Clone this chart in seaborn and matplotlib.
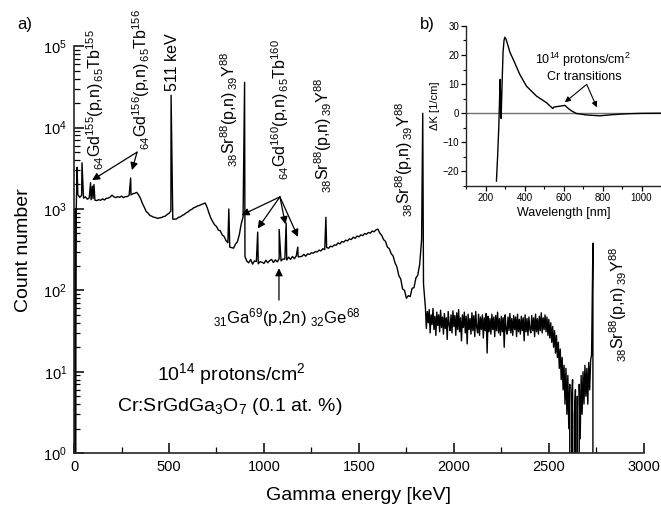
import numpy as np
import pandas as pd
import matplotlib
matplotlib.use("Agg")
import matplotlib.pyplot as plt
from matplotlib.ticker import MultipleLocator, LogLocator, NullFormatter
import seaborn as sns

# ---------------- gamma spectrum ----------------
# continuum below the 1836 keV line, one value every 10 keV starting at 20 keV
continuum_start, continuum_step = 20, 10
continuum_counts = [
    1500, 1390, 1470, 1360, 1410, 1320, 1370, 1300, 1340, 1280,   # 20-110
    1270, 1300, 1280, 1330, 1290, 1350, 1360, 1400, 1480, 1410,   # 120-210
    1380, 1420, 1390, 1440, 1380, 1420, 1420, 1470, 1490, 1540,   # 220-310
    1560, 1600, 1490, 1350, 1170, 1050, 930, 890, 830, 815,       # 320-410
    790, 785, 765, 780, 785, 805, 815, 855, 885, 945,             # 420-510
    750, 750, 755, 790, 800, 835, 855, 895, 920, 965,             # 520-610
    990, 1035, 1055, 1090, 1105, 1135, 1155, 1185, 1060, 900,     # 620-710
    775, 700, 640, 610, 550, 540, 480, 460, 410, 385,             # 720-810
    340, 335, 330, 370, 395, 480, 650, 800, 260, 228,             # 820-910
    218, 240, 210, 230, 226, 212, 225, 222, 214, 234,             # 920-1010
    218, 232, 240, 220, 237, 224, 245, 230, 243, 242,             # 1020-1110
    236, 256, 240, 261, 245, 265, 258, 260, 262, 277,             # 1120-1210
    263, 281, 276, 290, 286, 300, 296, 312, 305, 325,             # 1220-1310
    317, 337, 329, 349, 343, 362, 358, 383, 372, 398,             # 1320-1410
    392, 414, 406, 430, 421, 450, 436, 465, 455, 481,             # 1420-1510
    470, 500, 490, 515, 505, 536, 525, 555, 565, 505,             # 1520-1610
    475, 420, 400, 340, 325, 282, 265, 218, 195, 152,             # 1620-1710
    138, 104, 100, 80, 86, 84, 106, 108, 142, 154,                # 1720-1810
    210, 420, 120,                                                # 1820-1840
]

# noisy part above the 1836 keV line, one value every 5 keV starting at 1850 keV
tail_start, tail_step = 1850, 5
tail_counts = [
    62, 34, 55, 40, 58, 30, 50, 38, 60, 33,    # 1850-1895
    48, 28, 54, 37, 50, 31, 57, 35, 47, 29,    # 1900-1945
    52, 34, 46, 25, 55, 38, 32, 50, 30, 56,    # 1950-1995
    36, 49, 28, 53, 33, 58, 31, 46, 24, 50,    # 2000-2045
    35, 54, 30, 48, 22, 51, 33, 45, 29, 53,    # 2050-2095
    32, 49, 27, 55, 35, 30, 51, 28, 47, 33,    # 2100-2145
    50, 26, 46, 32, 52, 17, 48, 31, 45, 29,    # 2150-2195
    51, 33, 47, 27, 49, 32, 54, 30, 45, 28,    # 2200-2245
    48, 31, 46, 20, 50, 33, 29, 47, 32, 52,    # 2250-2295
    30, 45, 28, 49, 33, 47, 27, 51, 31, 44,    # 2300-2345
    29, 48, 32, 46, 24, 50, 31, 45, 28, 47,    # 2350-2395
    33, 30, 49, 32, 46, 27, 51, 31, 45, 29,    # 2400-2445
    48, 32, 53, 30, 46, 33, 50, 31, 47, 28,    # 2450-2495
    44, 26, 40, 23, 36, 20, 32, 17, 28, 15,    # 2500-2545
    23, 11, 19, 8, 15, 6, 12, 4, 11, 3,        # 2550-2595
    9, 2, 7, 0, 5, 8, 0, 3, 6, 0,              # 2600-2645
    5, 0, 7, 1.5, 9, 3, 10, 4, 12, 5,          # 2650-2695
    11, 4, 13, 6, 14, 16,                      # 2700-2725
]

# threshold region at the low end and the end of the recorded range
edge_energy = [0, 5, 8, 12, 2737]
edge_counts = [0, 1000, 1, 1100, 0]

# full-energy peaks
peak_energy = [16, 42, 87, 97, 105, 298, 511, 815, 898, 967, 1080, 1117,
               1178, 1326, 1836, 2732]
peak_counts = [3250, 3700, 2100, 1900, 2000, 2400, 25000, 1000, 36000, 520,
               560, 670, 340, 790, 15000, 380]

# ---------------- absorption difference (inset) ----------------
wavelength_nm = [256, 262, 268, 275, 278, 280, 285, 290, 295, 299, 305, 312,
                 325, 350, 376, 410, 461, 513, 545, 550, 560, 580, 600, 607,
                 625, 641, 666, 717, 786, 853, 922, 1000, 1100]
delta_k = [-23.4, -15.0, -5.0, 11.6, 3.0, -1.8, 10.0, 21.0, 25.0, 26.1, 25.5,
           24.0, 21.0, 17.3, 13.3, 9.3, 5.9, 3.6, 1.6, 2.1, 2.2, 2.4, 2.6,
           2.7, 1.6, 0.8, -0.1, -0.6, -0.9, -0.5, -0.2, -0.05, 0.0]

# ---------------- assemble tables ----------------
spectrum = pd.concat([
    pd.DataFrame({"energy": continuum_start + continuum_step * np.arange(len(continuum_counts)),
                  "counts": continuum_counts}),
    pd.DataFrame({"energy": tail_start + tail_step * np.arange(len(tail_counts)),
                  "counts": tail_counts}),
    pd.DataFrame({"energy": edge_energy, "counts": edge_counts}),
    pd.DataFrame({"energy": peak_energy, "counts": peak_counts}),
], ignore_index=True).astype(float)

absorption = pd.DataFrame({"wavelength": wavelength_nm, "dk": delta_k})

# ---------------- style ----------------
sns.set_theme(style="ticks")
plt.rcParams["font.family"] = ["Liberation Sans", "DejaVu Sans"]
plt.rcParams["mathtext.fontset"] = "custom"
plt.rcParams["mathtext.rm"] = "Liberation Sans"
plt.rcParams["mathtext.it"] = "Liberation Sans:italic"
plt.rcParams["mathtext.bf"] = "Liberation Sans:bold"
plt.rcParams["mathtext.sf"] = "Liberation Sans"
plt.rcParams["axes.linewidth"] = 1.2
plt.rcParams["text.color"] = "black"
plt.rcParams["axes.labelcolor"] = "black"
plt.rcParams["xtick.color"] = "black"
plt.rcParams["ytick.color"] = "black"

fig = plt.figure(figsize=(6.61, 5.08), dpi=100)
ax = fig.add_axes([0.112, 0.108, 0.862, 0.801])

sns.lineplot(data=spectrum, x="energy", y="counts", estimator=None, sort=True,
             color="black", linewidth=1.0, ax=ax)
ax.set_yscale("log")
ax.set_xlim(0, 3000)
ax.set_ylim(1, 1e5)
ax.xaxis.set_major_locator(MultipleLocator(500))
ax.xaxis.set_minor_locator(MultipleLocator(250))
ax.yaxis.set_major_locator(LogLocator(base=10))
ax.yaxis.set_minor_locator(LogLocator(base=10, subs=np.arange(2, 10)))
ax.yaxis.set_minor_formatter(NullFormatter())
ax.tick_params(which="major", direction="in", length=7, width=1.1,
               labelsize=10.5, pad=5)
ax.tick_params(which="minor", direction="in", length=4, width=0.9)
sns.despine(ax=ax)
ax.set_xlabel("Gamma energy [keV]", fontsize=14, labelpad=9)
ax.set_ylabel("Count number", fontsize=14, labelpad=8)

# reaction labels along the peaks
lab_fs = 11.5
sr_label = r"$\mathregular{{}_{38}Sr^{88}(p{,}n)\,{}_{39}Y^{88}}$"
labels = [
    (110, 3000, r"$\mathregular{{}_{64}Gd^{155}(p{,}n)\,{}_{65}Tb^{155}}$"),
    (352, 5300, r"$\mathregular{{}_{64}Gd^{156}(p{,}n)\,{}_{65}Tb^{156}}$"),
    (521, 28000, "511 keV"),
    (815, 3250, sr_label),
    (1084, 2260, r"$\mathregular{{}_{64}Gd^{160}(p{,}n)\,{}_{65}Tb^{160}}$"),
    (1311, 1560, sr_label),
    (1736, 795, sr_label),
    (2865, 13, sr_label),
]
for x, y, s in labels:
    ax.text(x, y, s, rotation=90, ha="center", va="bottom", fontsize=lab_fs)

arrow = dict(arrowstyle="-|>", color="black", lw=0.9, mutation_scale=11,
             shrinkA=0, shrinkB=0)
for tip in [(95, 2260), (305, 3000)]:
    ax.annotate("", xy=tip, xytext=(332, 5000), arrowprops=arrow)
for tip in [(882, 840), (967, 575), (1113, 650), (1179, 454)]:
    ax.annotate("", xy=tip, xytext=(1084, 1410), arrowprops=arrow)
ax.annotate("", xy=(1079, 187), xytext=(1079, 76), arrowprops=arrow)
ax.text(1121, 47, r"$\mathregular{{}_{31}Ga^{69}(p{,}2n)\ {}_{32}Ge^{68}}$",
        ha="center", va="center", fontsize=12)

ax.text(826, 9.4, r"10$^{14}$ protons/cm$^2$", ha="center", va="center",
        fontsize=14)
ax.text(821, 3.75, r"Cr:SrGdGa$_3$O$_7$ (0.1 at. %)", ha="center",
        va="center", fontsize=14)

fig.text(0.038, 0.951, "a)", fontsize=12, ha="center", va="center")
fig.text(0.646, 0.951, "b)", fontsize=12, ha="center", va="center")

# ---------------- inset ----------------
ins = fig.add_axes([0.705, 0.634, 0.295, 0.315])
ins.axhline(0, color="0.45", linewidth=1.0)
sns.lineplot(data=absorption, x="wavelength", y="dk", estimator=None,
             sort=False, color="black", linewidth=1.0, ax=ins)
ins.set_xlim(100, 1100)
ins.set_ylim(-25, 30)
ins.xaxis.set_major_locator(MultipleLocator(200))
ins.xaxis.set_minor_locator(MultipleLocator(100))
ins.yaxis.set_major_locator(MultipleLocator(10))
ins.yaxis.set_minor_locator(MultipleLocator(5))
ins.tick_params(which="major", direction="out", length=3.5, width=0.9,
                labelsize=7, pad=1.5)
ins.tick_params(which="minor", direction="out", length=2, width=0.8)
for side in ["left", "bottom"]:
    ins.spines[side].set_linewidth(1.0)
sns.despine(ax=ins)
ins.set_xlabel("Wavelength [nm]", fontsize=9, labelpad=3)
ins.set_ylabel("ΔK [1/cm]", fontsize=8, labelpad=2)
ins.text(702, 18.4, r"10$^{14}$ protons/cm$^2$", ha="center", va="center",
         fontsize=9)
ins.text(708, 12.6, "Cr transitions", ha="center", va="center", fontsize=9)
small_arrow = dict(arrowstyle="-|>", color="black", lw=0.8, mutation_scale=8,
                   shrinkA=0, shrinkB=0)
for tip in [(607, 3.75), (771, 2.0)]:
    ins.annotate("", xy=tip, xytext=(719, 9.9), arrowprops=small_arrow)

fig.savefig("out.png", dpi=100)
